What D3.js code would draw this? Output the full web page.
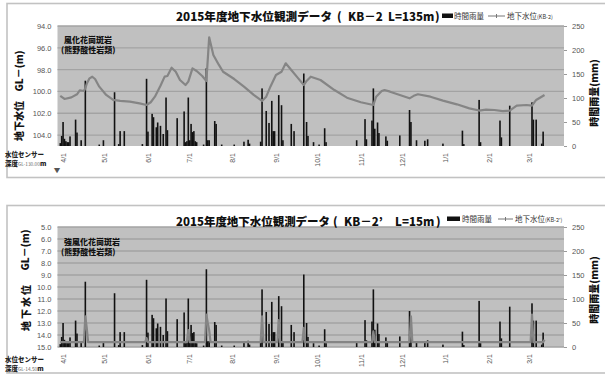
<!DOCTYPE html>
<html>
<head>
<meta charset="utf-8">
<script src="https://cdn.jsdelivr.net/npm/d3@7"></script>
<style>
  body { margin: 0; background: #fff; }
  svg { display: block; }
</style>
</head>
<body>
<div id="chart"></div>
<script>
// category axis (first day of each month)
const monthLabels = ["4/1","5/1","6/1","7/1","8/1","9/1","10/1","11/1","12/1","1/1","2/1","3/1"];
const monthDates = ["2015-04-01","2015-05-01","2015-06-01","2015-07-01","2015-08-01","2015-09-01",
  "2015-10-01","2015-11-01","2015-12-01","2016-01-01","2016-02-01","2016-03-01"];

// 時間雨量 (mm) - same gauge for both wells
const rainDates = ["2015-04-01","2015-04-02","2015-04-03","2015-04-04","2015-04-05","2015-04-06","2015-04-07",
  "2015-04-08","2015-04-12","2015-04-13","2015-04-16","2015-04-19","2015-04-29","2015-05-02","2015-05-10",
  "2015-05-13","2015-05-14","2015-05-17","2015-05-30","2015-06-02","2015-06-03","2015-06-06","2015-06-07",
  "2015-06-09","2015-06-10","2015-06-12","2015-06-14","2015-06-16","2015-06-17","2015-06-24","2015-06-29",
  "2015-06-30","2015-07-01","2015-07-02","2015-07-03","2015-07-04","2015-07-05","2015-07-06","2015-07-07",
  "2015-07-08","2015-07-13","2015-07-15","2015-07-16","2015-07-17","2015-07-21","2015-07-22","2015-07-26",
  "2015-08-04","2015-08-11","2015-08-14","2015-08-15","2015-08-23","2015-08-24","2015-08-27","2015-08-29",
  "2015-08-31","2015-09-01","2015-09-02","2015-09-05","2015-09-07","2015-09-08","2015-09-14","2015-09-16",
  "2015-09-23","2015-09-25","2015-09-26","2015-09-30","2015-10-04","2015-10-08","2015-10-09","2015-10-31",
  "2015-11-06","2015-11-07","2015-11-11","2015-11-12","2015-11-13","2015-11-15","2015-11-16","2015-11-21",
  "2015-11-22","2015-12-01","2015-12-08","2015-12-09","2015-12-13","2015-12-19","2015-12-21","2016-01-01",
  "2016-01-15","2016-01-16","2016-01-27","2016-01-28","2016-02-11","2016-02-12","2016-02-18","2016-03-05",
  "2016-03-06","2016-03-08","2016-03-12","2016-03-13"];
const rainMm = [6,21,50,15,10,8,8,
  20,55,28,12,136,3,12,112,
  4,31,31,4,140,30,67,60,
  39,49,42,25,101,33,58,72,
  8,10,101,12,46,29,31,10,
  8,3,162,12,12,52,46,3,
  3,9,13,5,9,120,73,48,
  94,31,31,106,85,12,46,31,
  151,50,21,8,3,37,8,12,
  56,14,53,120,36,49,27,20,
  11,22,75,50,12,11,14,5,
  32,4,96,8,53,18,84,91,
  55,55,5,30];

// 地下水位 KB-2, GL-(m)
const kb2Dates = ["2015-04-01","2015-04-04","2015-04-09","2015-04-13","2015-04-15","2015-04-18","2015-04-19",
  "2015-04-20","2015-04-22","2015-04-24","2015-04-26","2015-04-29","2015-05-04","2015-05-09","2015-05-14",
  "2015-05-21","2015-05-28","2015-06-02","2015-06-05","2015-06-08","2015-06-12","2015-06-15","2015-06-17",
  "2015-06-20","2015-06-23","2015-06-26","2015-06-30","2015-07-02","2015-07-05","2015-07-08","2015-07-12",
  "2015-07-15","2015-07-17","2015-07-20","2015-07-24","2015-07-27","2015-08-04","2015-08-11","2015-08-18",
  "2015-08-24","2015-08-27","2015-08-30","2015-09-03","2015-09-07","2015-09-10","2015-09-14","2015-09-19",
  "2015-09-23","2015-09-25","2015-09-28","2015-10-05","2015-10-15","2015-10-24","2015-11-03","2015-11-12",
  "2015-11-14","2015-11-18","2015-11-20","2015-11-24","2015-12-01","2015-12-08","2015-12-11","2015-12-14",
  "2015-12-23","2016-01-01","2016-01-11","2016-01-20","2016-01-27","2016-02-01","2016-02-07","2016-02-13",
  "2016-02-18","2016-02-23","2016-03-01","2016-03-05","2016-03-08","2016-03-14"];
const kb2Level = [100.4,100.69,100.54,100.26,99.9,99.96,99.7,
  99.3,98.8,98.65,98.86,99.56,100.32,100.78,100.87,
  100.93,101.09,101.24,100.99,100.48,99.47,98.64,98.58,
  97.82,98.19,98.95,99.41,99.1,97.88,98.12,98.58,
  99.04,95.04,96.66,97.57,98.19,98.86,99.56,100.32,
  100.87,100.48,99.56,98.49,98.19,97.42,98.03,98.8,
  99.41,99.04,98.65,98.95,99.87,100.57,100.99,101.24,
  100.48,99.96,99.87,100.02,100.32,100.63,100.4,100.26,
  100.48,100.84,101.18,101.55,101.75,101.67,101.7,101.8,
  101.76,101.3,101.24,101.3,100.78,100.32];

// 地下水位 KB-2', GL-(m)
const kb2pDates = ["2015-04-01","2015-04-18","2015-04-19","2015-04-20","2015-04-21","2015-06-01","2015-06-02",
  "2015-06-03","2015-07-01","2015-07-02","2015-07-03","2015-07-14","2015-07-15","2015-07-16","2015-07-17",
  "2015-07-18","2015-08-23","2015-08-24","2015-08-25","2015-09-04","2015-09-05","2015-09-06","2015-09-22",
  "2015-09-23","2015-09-24","2015-11-11","2015-11-12","2015-11-13","2015-12-08","2015-12-09","2015-12-10",
  "2016-03-04","2016-03-05","2016-03-06","2016-03-13","2016-03-14"];
const kb2pLevel = [14.6,14.6,12.45,13.4,14.6,14.6,14.25,
  14.6,14.6,13.6,14.6,14.6,12.3,13.0,13.6,
  14.6,14.6,12.45,14.6,14.6,12.75,14.6,14.6,
  13.4,14.6,14.6,13.7,14.6,14.6,12.45,14.6,
  14.6,12.3,14.6,14.6,14.4];

const levelTicks1 = [94, 96, 98, 100, 102, 104];
const levelTicks2 = [5, 6, 7, 8, 9, 10, 11, 12, 13, 14, 15];
const rainTicks = [0, 50, 100, 150, 200, 250];

const W = 605, H = 374;
const JP = "'Noto Sans CJK JP', sans-serif";
const NUM = "'Liberation Sans', Arial, sans-serif";

const parse = d3.timeParse("%Y-%m-%d");
const x = d3.scaleTime()
  .domain([new Date(2015, 2, 30), new Date(2016, 2, 28)])
  .range([57.5, 564]);

const svg = d3.select("#chart").append("svg")
  .attr("width", W).attr("height", H)
  .style("background", "#fff");

const panels = [
  {
    frameTop: 3.5, frameBottom: 177.5, top: 26, bottom: 146,
    domain: [94, 105], ticks: levelTicks1,
    dates: kb2Dates, levels: kb2Level,
    titleY: 21,
    titleParts: [["2015年度地下水位観測データ", 176, 156], ["(", 337, 0], ["KB－2", 348, 0], ["L=135m", 388, 0], [")", 435, 0]],
    legendY: 16, swatchX: 442, swatchW: 11, rainTextX: 454, lineX: 488, lineW: 17, levelTextX: 507, tag: "(KB-2)",
    geology: ["風化花崗斑岩", "(熊野酸性岩類)"], geoY: 43,
    glY: 71, glX: 19, kanjiY: 121, kanjiX: 19, kanjiSpacing: 0,
    rainTitleY: 93,
    sensorY: 157, depth: "GL-130.00", marker: true
  },
  {
    frameTop: 205.5, frameBottom: 373, top: 227, bottom: 347,
    domain: [5, 15], ticks: levelTicks2,
    dates: kb2pDates, levels: kb2pLevel,
    titleY: 226,
    titleParts: [["2015年度地下水位観測データ", 176, 154], ["(", 333, 0], ["KB－2’", 344, 0], ["L=15m", 395, 0], [")", 436, 0]],
    legendY: 219, swatchX: 447, swatchW: 13, rainTextX: 462, lineX: 498, lineW: 15, levelTextX: 515, tag: "(KB-2’)",
    geology: ["強風化花崗斑岩", "(熊野酸性岩類)"], geoY: 244.5,
    glY: 250, glX: 25, kanjiY: 307, kanjiX: 26, kanjiSpacing: 2,
    rainTitleY: 290,
    sensorY: 362, depth: "GL-14.50", marker: false
  }
];

panels.forEach(p => drawPanel(p));

function drawPanel(p) {
  const g = svg.append("g");

  const y = d3.scaleLinear().domain(p.domain).range([p.top, p.bottom]);
  const yr = d3.scaleLinear().domain([0, 250]).range([p.bottom, p.top]);

  // outer frame
  g.append("rect")
    .attr("x", 7).attr("y", p.frameTop)
    .attr("width", 600).attr("height", p.frameBottom - p.frameTop)
    .attr("fill", "none").attr("stroke", "#c2c2c2").attr("stroke-width", 1.6);

  // plot area
  g.append("rect")
    .attr("x", x.range()[0]).attr("y", p.top)
    .attr("width", x.range()[1] - x.range()[0]).attr("height", p.bottom - p.top)
    .attr("fill", "#c0c0c0");

  g.selectAll("line.grid").data(p.ticks).join("line")
    .attr("class", "grid")
    .attr("x1", x.range()[0]).attr("x2", x.range()[1])
    .attr("y1", d => y(d)).attr("y2", d => y(d))
    .attr("stroke", "#a3a3a3").attr("stroke-width", 1.3);

  // left axis (GL-)
  const la = g.append("g").attr("transform", `translate(${x.range()[0]},0)`)
    .call(d3.axisLeft(y).tickValues(p.ticks).tickFormat(d3.format(".1f")).tickSize(0).tickPadding(6));
  la.select(".domain").remove();
  la.selectAll("text").attr("font-family", NUM).attr("font-size", 7.5).attr("fill", "#555");

  // right axis (rain)
  const ra = g.append("g").attr("transform", `translate(${x.range()[1]},0)`)
    .call(d3.axisRight(yr).tickValues(rainTicks).tickSize(3).tickPadding(5));
  ra.select(".domain").remove();
  ra.selectAll("line").attr("stroke", "#999");
  ra.selectAll("text").attr("font-family", NUM).attr("font-size", 7.5).attr("fill", "#555");

  // month axis
  const xa = g.append("g").attr("transform", `translate(0,${p.bottom})`)
    .call(d3.axisBottom(x).tickValues(monthDates.map(parse))
      .tickFormat((d, i) => monthLabels[i]).tickSize(0));
  xa.select(".domain").remove();
  xa.selectAll("text")
    .attr("font-family", NUM).attr("font-size", 7).attr("fill", "#555")
    .attr("text-anchor", "end")
    .attr("transform", "translate(2.5,7) rotate(-90)")
    .attr("x", 0).attr("y", 0).attr("dy", "0.35em");

  // rain bars
  const bw = 1.6;
  g.append("g").selectAll("rect").data(rainDates).join("rect")
    .attr("x", d => x(parse(d)) - bw / 2)
    .attr("y", (d, i) => yr(rainMm[i]))
    .attr("width", bw)
    .attr("height", (d, i) => yr(0) - yr(rainMm[i]))
    .attr("fill", "#111");

  // water level
  const pts = p.dates.map((d, i) => [x(parse(d)), y(p.levels[i])]);
  g.append("path")
    .attr("d", d3.line()(pts))
    .attr("fill", "none").attr("stroke", "#858585")
    .attr("stroke-width", 2.2).attr("stroke-linejoin", "round");

  // title, laid out piece by piece like the original
  g.append("g").selectAll("text").data(p.titleParts).join("text")
    .attr("x", d => d[1]).attr("y", p.titleY)
    .attr("font-family", JP).attr("font-weight", 900).attr("font-size", 11.5).attr("fill", "#111")
    .each(function (d) {
      if (d[2] > 0) d3.select(this).attr("textLength", d[2]).attr("lengthAdjust", "spacingAndGlyphs");
    })
    .text(d => d[0]);

  // legend
  g.append("rect").attr("x", p.swatchX).attr("y", p.legendY - 2.5)
    .attr("width", p.swatchW).attr("height", 4.5).attr("fill", "#111");
  g.append("text").attr("x", p.rainTextX).attr("y", p.legendY + 2.8)
    .attr("font-family", JP).attr("font-size", 7.5).attr("fill", "#333").text("時間雨量");
  g.append("line").attr("x1", p.lineX).attr("x2", p.lineX + p.lineW).attr("y1", p.legendY).attr("y2", p.legendY)
    .attr("stroke", "#777").attr("stroke-width", 1);
  g.append("line").attr("x1", p.lineX + p.lineW / 2).attr("x2", p.lineX + p.lineW / 2)
    .attr("y1", p.legendY - 2).attr("y2", p.legendY + 2)
    .attr("stroke", "#777").attr("stroke-width", 1);
  const lt = g.append("text").attr("x", p.levelTextX).attr("y", p.legendY + 2.8)
    .attr("font-family", JP).attr("font-size", 7.5).attr("fill", "#333");
  lt.append("tspan").text("地下水位");
  lt.append("tspan").attr("font-size", 5.5).text(p.tag);

  // geology note
  g.append("g").selectAll("text").data(p.geology).join("text")
    .attr("x", (d, i) => i === 0 ? 64 : 61)
    .attr("y", (d, i) => p.geoY + i * 10)
    .attr("font-family", JP).attr("font-weight", 900).attr("font-size", 8)
    .attr("fill", "#111").text(d => d);

  // axis titles
  g.append("text")
    .attr("transform", `translate(${p.glX + 3.5},${p.glY}) rotate(-90)`)
    .attr("text-anchor", "middle")
    .attr("font-family", JP).attr("font-weight", 900).attr("font-size", 10).attr("fill", "#111")
    .text("GL－(m)");
  g.append("text")
    .attr("transform", `translate(${p.kanjiX + 3.5},${p.kanjiY}) rotate(-90)`)
    .attr("text-anchor", "middle").attr("letter-spacing", p.kanjiSpacing)
    .attr("font-family", JP).attr("font-weight", 900).attr("font-size", 10).attr("fill", "#111")
    .text("地下水位");
  g.append("text")
    .attr("transform", `translate(${598},${p.rainTitleY}) rotate(-90)`)
    .attr("text-anchor", "middle")
    .attr("font-family", JP).attr("font-weight", 900).attr("font-size", 10).attr("fill", "#111")
    .text("時間雨量(mm)");

  // sensor depth note
  g.append("text").attr("x", 5).attr("y", p.sensorY)
    .attr("font-family", JP).attr("font-weight", 900).attr("font-size", 6.5).attr("fill", "#222")
    .text("水位センサー");
  const dt = g.append("text").attr("x", 5).attr("y", p.sensorY + 8.5)
    .attr("font-family", JP).attr("font-weight", 900).attr("font-size", 6.5).attr("fill", "#222");
  dt.append("tspan").text("深度");
  dt.append("tspan").attr("font-weight", 400).attr("font-size", 4.8).attr("fill", "#666").text(p.depth);
  dt.append("tspan").text("m");
  if (p.marker) {
    g.append("text").attr("x", 57).attr("y", p.sensorY + 16)
      .attr("text-anchor", "middle").attr("font-family", JP).attr("font-size", 6.5).attr("fill", "#555")
      .text("▼");
  }
}
</script>
</body>
</html>
